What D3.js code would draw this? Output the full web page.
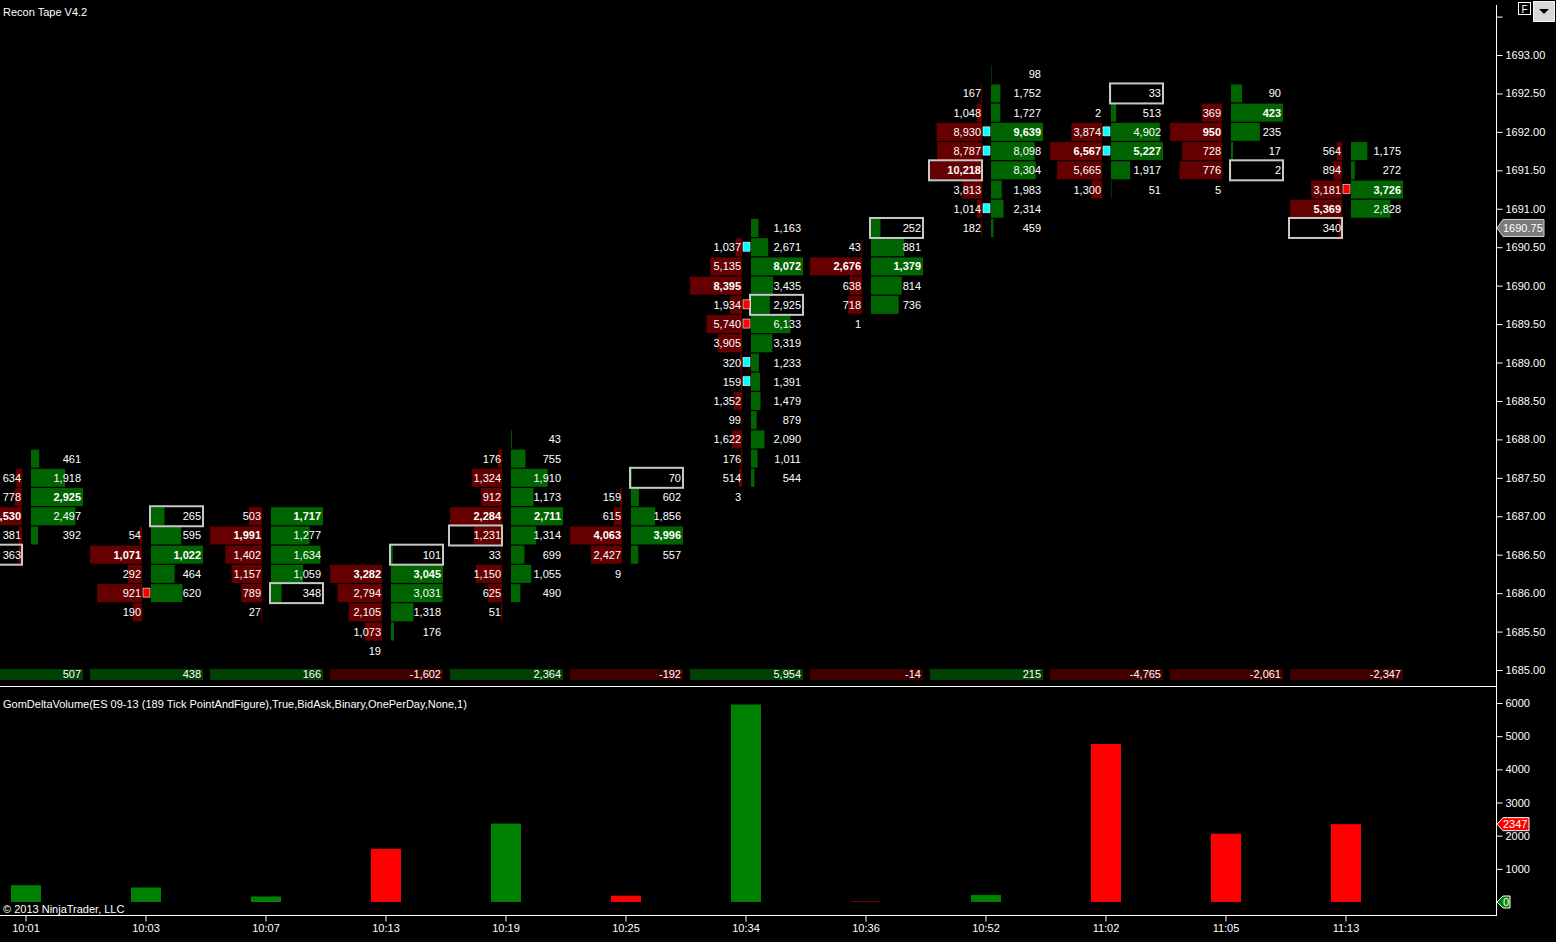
<!DOCTYPE html>
<html>
<head>
<meta charset="utf-8">
<script src="https://cdn.jsdelivr.net/npm/d3@7"></script>
<style>
body { margin: 0; background: #000; overflow: hidden; }
text { font-family: Arial, "Liberation Sans", sans-serif; }
</style>
</head>
<body>
<div id="chart"></div>
<script>
// one footprint column per bar
const times = ["10:01", "10:03", "10:07", "10:13", "10:19", "10:25", "10:34", "10:36", "10:52", "11:02", "11:05", "11:13"];
// price of the first row of every column, rows go down by one tick
const topPrice = [1687.75, 1687.00, 1687.00, 1686.50, 1688.00, 1687.50, 1690.75, 1690.75, 1692.75, 1692.50, 1692.50, 1691.75];
const bidVol = [
    [null, 634, 778, 5530, 381, 363],
    [null, 54, 1071, 292, 921, 190],
    [503, 1991, 1402, 1157, 789, 27],
    [null, 3282, 2794, 2105, 1073, 19],
    [null, 176, 1324, 912, 2284, 1231, 33, 1150, 625, 51],
    [null, 159, 615, 4063, 2427, 9],
    [null, 1037, 5135, 8395, 1934, 5740, 3905, 320, 159, 1352, 99, 1622, 176, 514, 3],
    [null, 43, 2676, 638, 718, 1],
    [null, 167, 1048, 8930, 8787, 10218, 3813, 1014, 182],
    [null, 2, 3874, 6567, 5665, 1300],
    [null, 369, 950, 728, 776, 5],
    [564, 894, 3181, 5369, 340]
];
const askVol = [
    [461, 1918, 2925, 2497, 392, null],
    [265, 595, 1022, 464, 620, null],
    [1717, 1277, 1634, 1059, 348, null],
    [101, 3045, 3031, 1318, 176, null],
    [43, 755, 1910, 1173, 2711, 1314, 699, 1055, 490, null],
    [70, 602, 1856, 3996, 557, null],
    [1163, 2671, 8072, 3435, 2925, 6133, 3319, 1233, 1391, 1479, 879, 2090, 1011, 544, null],
    [252, 881, 1379, 814, 736, null],
    [98, 1752, 1727, 9639, 8098, 8304, 1983, 2314, 459],
    [33, 513, 4902, 5227, 1917, 51],
    [90, 423, 235, 17, 2, null],
    [1175, 272, 3726, 2828, null]
];
// close cell of each column
const closePrice = [1686.50, 1687.00, 1686.00, 1686.50, 1686.75, 1687.50, 1689.75, 1690.75, 1691.50, 1692.50, 1691.50, 1690.75];
const closeSide = ["bid", "ask", "ask", "ask", "bid", "ask", "ask", "ask", "bid", "ask", "ask", "bid"];
// imbalance markers
const markerCol = [1, 6, 6, 6, 6, 6, 8, 8, 8, 9, 9, 11];
const markerPrice = [1686.00, 1690.50, 1689.75, 1689.50, 1689.00, 1688.75, 1692.00, 1691.75, 1691.00, 1692.00, 1691.75, 1691.25];
const markerKind = ["sell", "buy", "sell", "sell", "buy", "buy", "buy", "buy", "buy", "buy", "buy", "sell"];
const deltas = [507, 438, 166, -1602, 2364, -192, 5954, -14, 215, -4765, -2061, -2347];
const priceTicks = [1685, 1685.5, 1686, 1686.5, 1687, 1687.5, 1688, 1688.5, 1689, 1689.5, 1690, 1690.5, 1691, 1691.5, 1692, 1692.5, 1693, 1693.5];
const deltaTicks = [1000, 2000, 3000, 4000, 5000, 6000];
const lastPrice = 1690.75;

const tickSize = 0.25;
let W = 1556, H = 942, axisX = 1496;

// plain hyphen for negatives, like the platform does
let fmt = function (v) { return d3.format(",")(v).replace("\u2212", "-"); };

let svg = d3.select("#chart")
    .append("svg")
    .attr("width", W)
    .attr("height", H)
    .style("background", "#000");

svg.append("clipPath").attr("id", "plotclip")
    .append("rect").attr("x", 0).attr("y", 0).attr("width", axisX).attr("height", 686);

let x = d3.scaleBand().domain(times).range([-34, 1406]);
let cx = function (t) { return x(t) + x.bandwidth() / 2; };
let y = d3.scaleLinear().domain([1685, 1693]).range([670, 55]);
let yd = d3.scaleLinear().domain([0, 6000]).range([902, 703]);

let plot = svg.append("g").attr("clip-path", "url(#plotclip)");

// footprint cells
times.forEach(function (t, i) {
    let c = cx(t);
    let rows = bidVol[i].map(function (b, j) {
        return { price: topPrice[i] - j * tickSize, bid: b, ask: askVol[i][j] };
    });
    let bidMax = d3.max(bidVol[i]), askMax = d3.max(askVol[i]);
    let wb = d3.scaleLinear().domain([0, bidMax]).range([0, 52]);
    let wa = d3.scaleLinear().domain([0, askMax]).range([0, 52]);
    let g = plot.append("g");

    let bids = rows.filter(function (d) { return d.bid != null; });
    let asks = rows.filter(function (d) { return d.ask != null; });

    g.selectAll(".bidbar").data(bids).enter().append("rect")
        .attr("x", function (d) { return c - 4 - wb(d.bid); })
        .attr("y", function (d) { return y(d.price) - 9; })
        .attr("width", function (d) { return wb(d.bid); })
        .attr("height", 18)
        .attr("fill", "#660000");

    g.selectAll(".askbar").data(asks).enter().append("rect")
        .attr("x", c + 5)
        .attr("y", function (d) { return y(d.price) - 9; })
        .attr("width", function (d) { return wa(d.ask); })
        .attr("height", 18)
        .attr("fill", "#006400");

    g.selectAll(".bidtxt").data(bids).enter().append("text")
        .attr("x", c - 5)
        .attr("y", function (d) { return y(d.price) + 4; })
        .attr("text-anchor", "end")
        .attr("font-size", "11px")
        .attr("font-weight", function (d) { return d.bid === bidMax ? "bold" : "normal"; })
        .attr("fill", "#fff")
        .text(function (d) { return fmt(d.bid); });

    g.selectAll(".asktxt").data(asks).enter().append("text")
        .attr("x", c + 55)
        .attr("y", function (d) { return y(d.price) + 4; })
        .attr("text-anchor", "end")
        .attr("font-size", "11px")
        .attr("font-weight", function (d) { return d.ask === askMax ? "bold" : "normal"; })
        .attr("fill", "#fff")
        .text(function (d) { return fmt(d.ask); });

    // close box
    g.append("rect")
        .attr("x", closeSide[i] === "bid" ? c - 57 : c + 4)
        .attr("y", y(closePrice[i]) - 10)
        .attr("width", 53)
        .attr("height", 20)
        .attr("fill", "none")
        .attr("stroke", "#c8c8c8")
        .attr("stroke-width", 2);
});

// imbalance squares
plot.selectAll(".mark")
    .data(markerCol)
    .enter()
    .append("rect")
    .attr("x", function (d) { return cx(times[d]) - 3; })
    .attr("y", function (d, i) { return y(markerPrice[i]) - 5; })
    .attr("width", 7)
    .attr("height", 9)
    .attr("fill", function (d, i) { return markerKind[i] === "buy" ? "#00ffff" : "#ff0000"; })
    .attr("stroke", "#fff")
    .attr("stroke-width", 0.6);

// delta row under the footprints
plot.selectAll(".drow")
    .data(deltas)
    .enter()
    .append("rect")
    .attr("x", function (d, i) { return cx(times[i]) - 56; })
    .attr("y", 669)
    .attr("width", 113)
    .attr("height", 11)
    .attr("fill", function (d) { return d >= 0 ? "#004000" : "#400000"; });

plot.selectAll(".dtxt")
    .data(deltas)
    .enter()
    .append("text")
    .attr("x", function (d, i) { return cx(times[i]) + 55; })
    .attr("y", 678)
    .attr("text-anchor", "end")
    .attr("font-size", "11px")
    .attr("fill", "#fff")
    .text(function (d) { return fmt(d); });

// lower panel: delta volume bars
svg.selectAll(".dbar")
    .data(deltas)
    .enter()
    .append("rect")
    .attr("x", function (d, i) { return cx(times[i]) - 15; })
    .attr("y", function (d) { return yd(Math.abs(d)); })
    .attr("width", 30)
    .attr("height", function (d) { return yd(0) - yd(Math.abs(d)); })
    .attr("fill", function (d) { return d >= 0 ? "#008000" : "#ff0000"; });

// frame lines
svg.append("line").attr("x1", 0).attr("x2", axisX).attr("y1", 686.5).attr("y2", 686.5).attr("stroke", "#fff");
svg.append("line").attr("x1", 0).attr("x2", axisX).attr("y1", 915.5).attr("y2", 915.5).attr("stroke", "#fff");
svg.append("line").attr("x1", axisX + 0.5).attr("x2", axisX + 0.5).attr("y1", 5).attr("y2", 916).attr("stroke", "#fff");

// axes
let styleAxis = function (g) {
    g.select(".domain").remove();
    g.selectAll("line").attr("stroke", "#fff");
    g.selectAll("text").attr("fill", "#fff").attr("font-size", "11px")
        .attr("font-family", "Arial, 'Liberation Sans', sans-serif");
};

svg.append("g")
    .attr("transform", "translate(" + (axisX + 0.5) + ",0)")
    .call(d3.axisRight(y).tickValues(priceTicks).tickSize(6)
        .tickFormat(function (d) { return d > 1693 ? "" : d3.format(".2f")(d); }))
    .call(styleAxis);

svg.append("g")
    .attr("transform", "translate(" + (axisX + 0.5) + ",0)")
    .call(d3.axisRight(yd).tickValues(deltaTicks).tickSize(6).tickFormat(d3.format("d")))
    .call(styleAxis);

svg.append("g")
    .attr("transform", "translate(0,915.5)")
    .call(d3.axisBottom(x).tickSize(6))
    .call(styleAxis);

// value flags on the right axis
let flag = function (yv, w, h, fill, stroke, label) {
    let g = svg.append("g");
    g.append("path")
        .attr("d", "M" + (axisX + 1) + "," + yv + "L" + (axisX + 7) + "," + (yv - h / 2) +
            "L" + (axisX + w) + "," + (yv - h / 2) + "L" + (axisX + w) + "," + (yv + h / 2) +
            "L" + (axisX + 7) + "," + (yv + h / 2) + "Z")
        .attr("fill", fill)
        .attr("stroke", stroke);
    g.append("text")
        .attr("x", axisX + 7)
        .attr("y", yv + 4)
        .attr("font-size", "11px")
        .attr("fill", "#fff")
        .text(label);
};
flag(y(lastPrice), 48, 17, "#7a7a7a", "#d0d0d0", d3.format(".2f")(lastPrice));
flag(yd(Math.abs(deltas[deltas.length - 1])), 33, 13, "#ff0000", "#fff", String(Math.abs(deltas[deltas.length - 1])));
flag(yd(0), 14, 12, "#008000", "#fff", "0");

// titles
svg.append("text").attr("x", 3).attr("y", 16).attr("font-size", "11px").attr("fill", "#fff").text("Recon Tape V4.2");
svg.append("text").attr("x", 3).attr("y", 708).attr("font-size", "11px").attr("fill", "#fff")
    .text("GomDeltaVolume(ES 09-13 (189 Tick PointAndFigure),True,BidAsk,Binary,OnePerDay,None,1)");
svg.append("text").attr("x", 3).attr("y", 913).attr("font-size", "11px").attr("fill", "#fff").text("\u00a9 2013 NinjaTrader, LLC");

// top right buttons
svg.append("rect").attr("x", 1518.5).attr("y", 2.5).attr("width", 12).attr("height", 12)
    .attr("fill", "#000").attr("stroke", "#fff");
svg.append("text").attr("x", 1524.5).attr("y", 12.5).attr("text-anchor", "middle")
    .attr("font-size", "10px").attr("fill", "#fff").text("F");
svg.append("rect").attr("x", 1533.5).attr("y", 1.5).attr("width", 21).attr("height", 20)
    .attr("fill", "#d8d8d8").attr("stroke", "#f4f4f4");
svg.append("path").attr("d", "M1539,9L1549,9L1544,14Z").attr("fill", "#000");
</script>
</body>
</html>
